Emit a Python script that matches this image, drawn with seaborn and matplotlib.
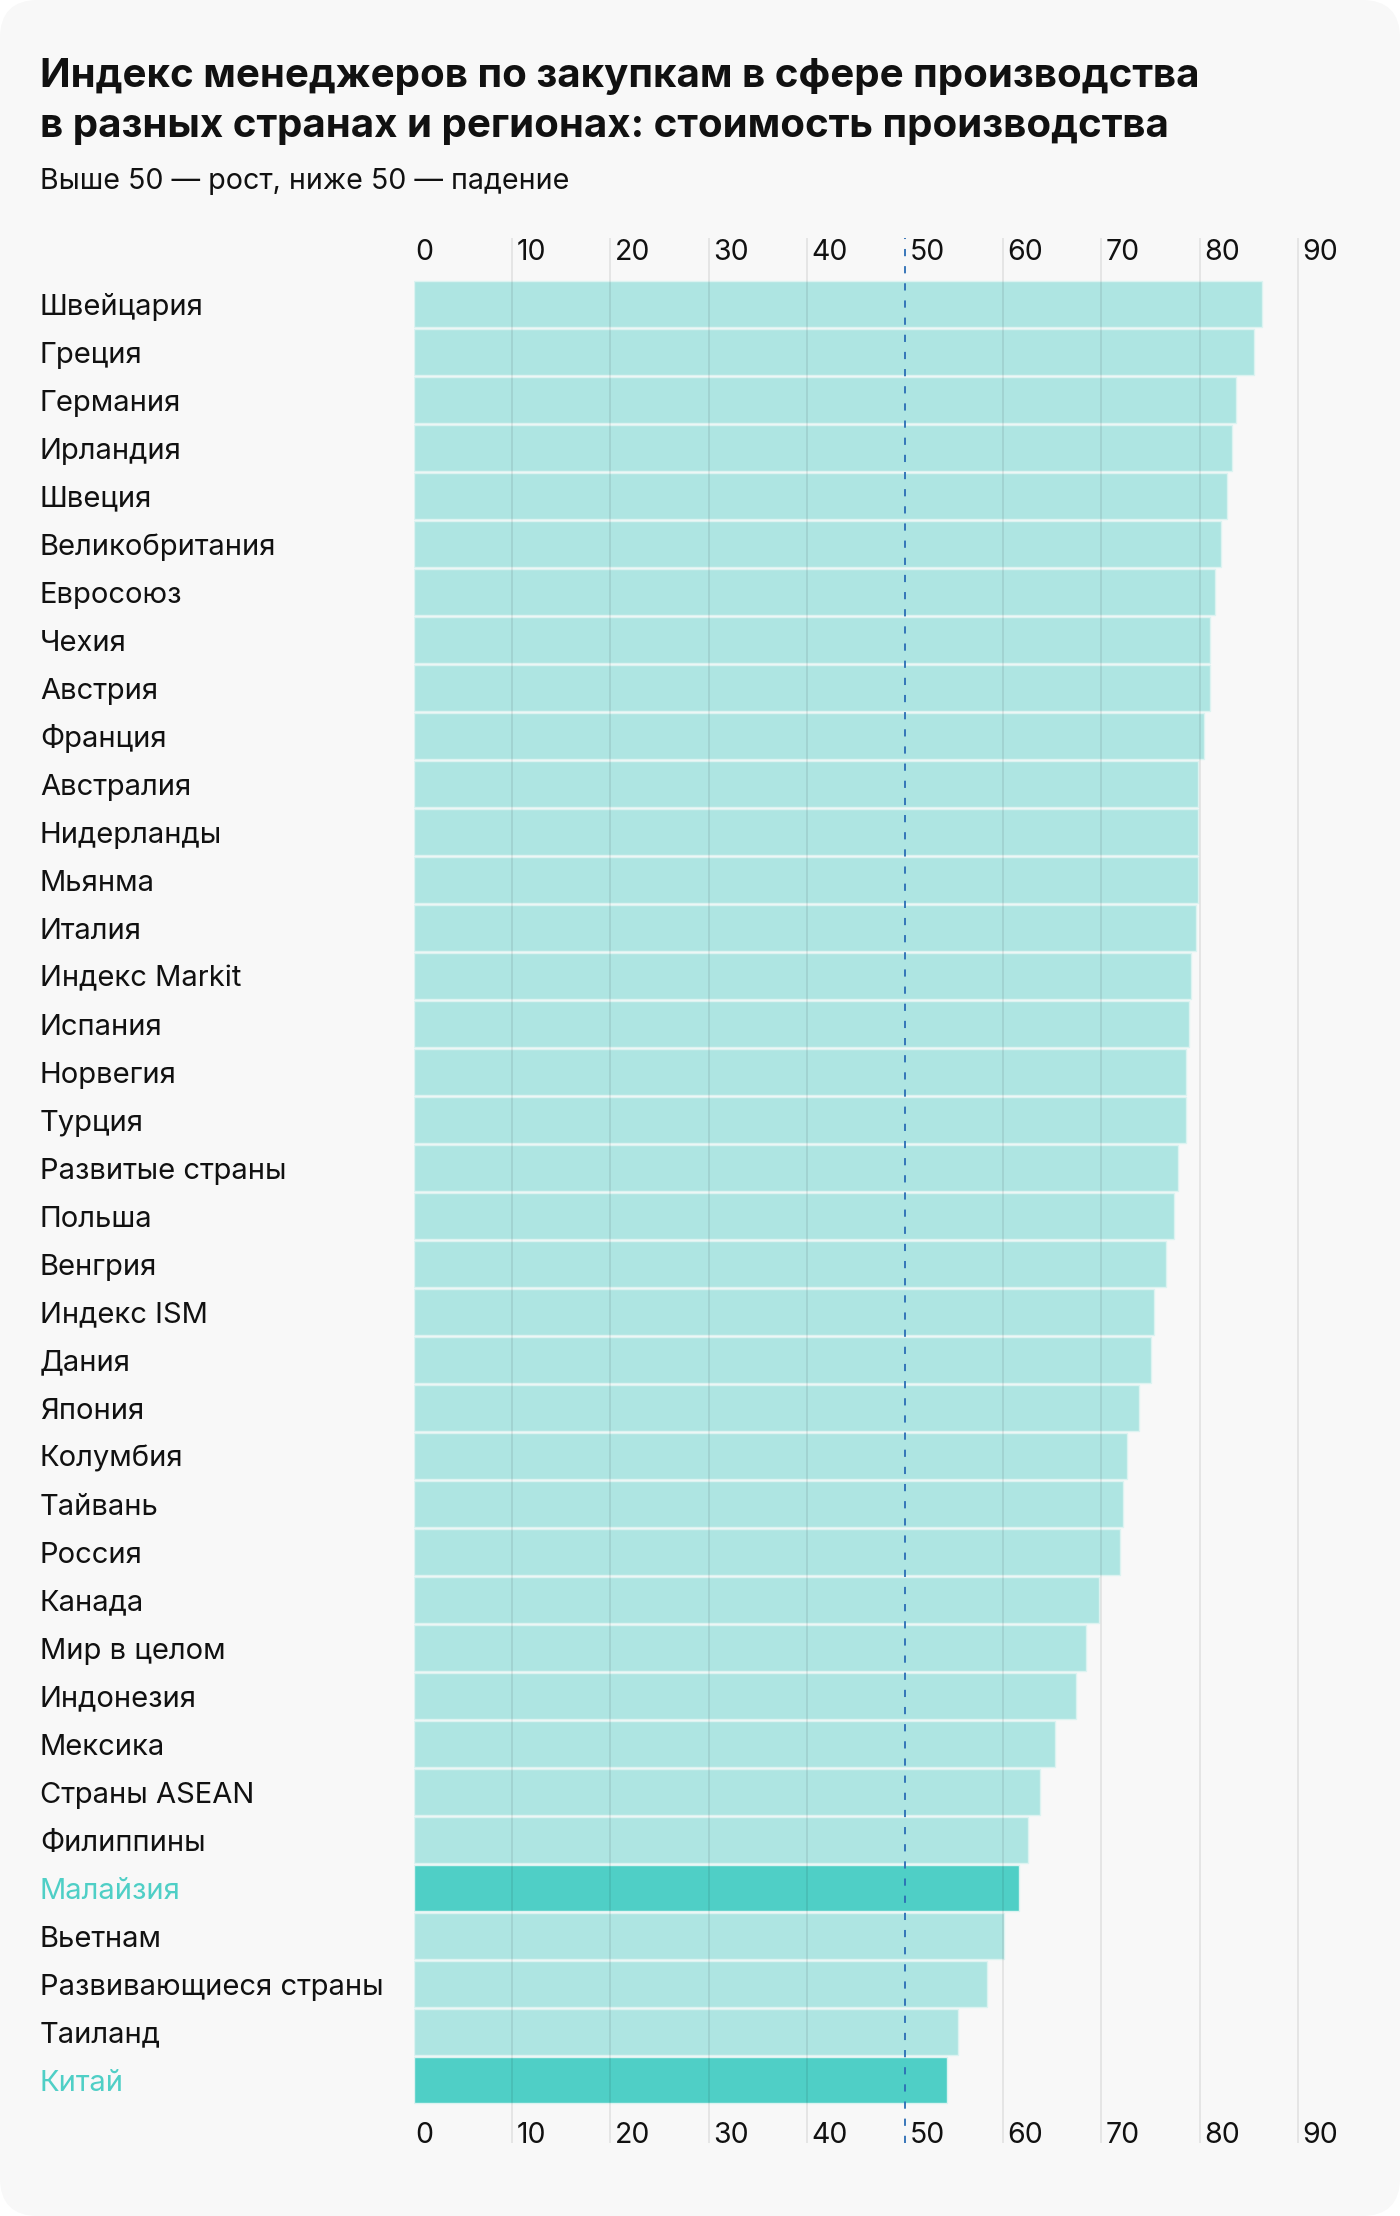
# Индекс менеджеров по закупкам: стоимость производства

import numpy as np
import pandas as pd
import seaborn as sns
import matplotlib.pyplot as plt
import matplotlib.transforms as mtransforms
from matplotlib.patches import FancyBboxPatch


# Данные
страны = [
    "Швейцария", "Греция", "Германия", "Ирландия", "Швеция", "Великобритания",
    "Евросоюз", "Чехия", "Австрия", "Франция", "Австралия", "Нидерланды",
    "Мьянма", "Италия", "Индекс Markit", "Испания", "Норвегия", "Турция",
    "Развитые страны", "Польша", "Венгрия", "Индекс ISM", "Дания", "Япония",
    "Колумбия", "Тайвань", "Россия", "Канада", "Мир в целом", "Индонезия",
    "Мексика", "Страны ASEAN", "Филиппины", "Малайзия", "Вьетнам",
    "Развивающиеся страны", "Таиланд", "Китай",
]
значения = [
    86.4, 85.5, 83.7, 83.3, 82.8, 82.2,
    81.6, 81.1, 81.1, 80.4, 79.8, 79.8,
    79.8, 79.6, 79.1, 78.9, 78.6, 78.6,
    77.8, 77.4, 76.6, 75.4, 75.1, 73.8,
    72.6, 72.2, 71.9, 69.8, 68.4, 67.4,
    65.3, 63.7, 62.5, 61.6, 60.1,
    58.3, 55.4, 54.3,
]
выделенные = ["Малайзия", "Китай"]
деления = [0, 10, 20, 30, 40, 50, 60, 70, 80, 90]
порог = 50

цвет_бар = "#aee5e2"
цвет_акцент = "#4fcfc6"

df = pd.DataFrame({"Страна": страны, "Значение": значения})
палитра = {s: (цвет_акцент if s in выделенные else цвет_бар) for s in страны}


# Оформление
sns.set_theme(style="white")
plt.rcParams["font.family"] = ["Inter", "DejaVu Sans"]

W, H = 1400, 2216
fig = plt.figure(figsize=(W / 100, H / 100), dpi=100)
fig.patch.set_facecolor("white")
fon = FancyBboxPatch((0, 0), W, H, boxstyle="round,pad=0,rounding_size=38",
                     transform=mtransforms.IdentityTransform(),
                     facecolor="#f8f8f8", edgecolor="none", zorder=-10)
fig.patches.append(fon)

x0_px, unit_px = 414, 9.82
top_px, bot_px = 238, 2143
xmax = 90.5
ax = fig.add_axes([x0_px / W, 1 - bot_px / H, xmax * unit_px / W, (bot_px - top_px) / H])
ax.set_facecolor("none")

sns.barplot(data=df, x="Значение", y="Страна", hue="Страна", palette=палитра,
            saturation=1, legend=False, orient="h", width=0.97,
            edgecolor="#dcf3f1", linewidth=1, ax=ax, zorder=2)

y_top = -1.375
y_bot = len(страны) - 1 + 1.31
ax.set_xlim(0, xmax)
ax.set_ylim(y_bot, y_top)

# Сетка поверх столбцов
for t in деления:
    if t in (0, порог):
        continue
    ax.axvline(t, color="black", alpha=0.09, lw=1.2, zorder=3)
ax.axvline(порог, color="#2a6db5", lw=1.3, ls=(0, (4, 5.5)), zorder=4)

ax.set_xticks([])
ax.set_yticks([])
ax.set_xlabel("")
ax.set_ylabel("")
for s in ax.spines.values():
    s.set_visible(False)

# Подписи оси X сверху и снизу
y_top_lbl = y_top + (260 - top_px) / 48
for t in деления:
    dx = 0.1 if t == 0 else 0.45
    ax.text(t + dx, y_top_lbl, str(t), fontsize=20.5, color="#111111",
            ha="left", va="baseline")
    ax.text(t + dx, y_bot, str(t), fontsize=20.5, color="#111111",
            ha="left", va="baseline")

# Подписи стран
trans = mtransforms.blended_transform_factory(fig.transFigure, ax.transData)
for i, s in enumerate(страны):
    ax.text(40 / W, i + 0.22, s, transform=trans, fontsize=21,
            color=(цвет_акцент if s in выделенные else "#111111"),
            ha="left", va="baseline")

# Заголовок
fig.text(40 / W, 1 - 87 / H, "Индекс менеджеров по закупкам в сфере производства",
         fontsize=29, fontweight="bold", color="#111111", ha="left", va="baseline")
fig.text(40 / W, 1 - 137 / H, "в разных странах и регионах: стоимость производства",
         fontsize=29, fontweight="bold", color="#111111", ha="left", va="baseline")
fig.text(40 / W, 1 - 189 / H, "Выше 50 — рост, ниже 50 — падение",
         fontsize=20.6, color="#111111", ha="left", va="baseline")

fig.savefig("out.png", dpi=100, facecolor=fig.get_facecolor())
